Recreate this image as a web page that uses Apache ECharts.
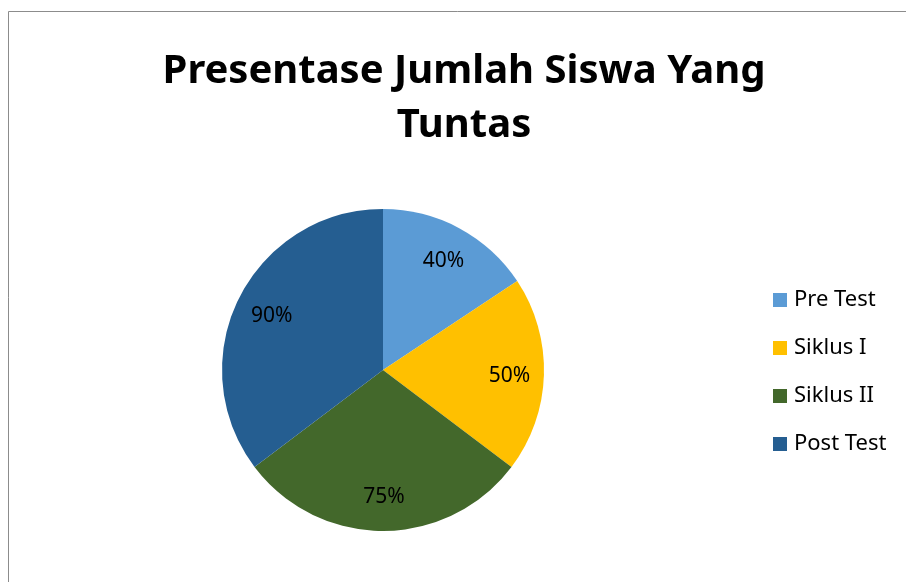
<!DOCTYPE html>
<html>
<head>
<meta charset="utf-8">
<script src="https://cdn.jsdelivr.net/npm/echarts@6/dist/echarts.min.js"></script>
<style>
  html, body { margin: 0; padding: 0; background: #fff; }
  #result { width: 906px; height: 582px; }
</style>
</head>
<body>
<div id="result"></div>
<script>
// data
var categories = ['Pre Test', 'Siklus I', 'Siklus II', 'Post Test'];
var values = [40, 50, 75, 90];
var colors = ['#5B9BD5', '#FFC000', '#43682B', '#255E91'];

var pieData = categories.map(function (name, i) {
    return { name: name, value: values[i], itemStyle: { color: colors[i] } };
});

var option = {
    animation: false,
    backgroundColor: '#fff',
    // 外框
    graphic: [{
        type: 'rect',
        shape: { x: 8.5, y: 11.5, width: 1000, height: 1000 },
        style: { fill: 'none', stroke: '#8c8c8c', lineWidth: 1 },
        silent: true
    }],
    title: {
        text: 'Presentase Jumlah Siswa Yang\nTuntas',
        left: 459,
        textAlign: 'center',
        top: 40,
        textStyle: {
            fontFamily: 'Noto Sans',
            fontWeight: 'bold',
            fontSize: 40,
            lineHeight: 54,
            color: '#000'
        }
    },
    legend: {
        orient: 'vertical',
        left: 768,
        top: 284,
        itemWidth: 14,
        itemHeight: 14,
        itemGap: 26,
        icon: 'rect',
        textStyle: { fontFamily: 'Noto Sans', fontSize: 22, lineHeight: 22, color: '#000', padding: [0, 0, 0, 2] },
        data: categories
    },
    series: [
        {
            name: 'Tuntas',
            type: 'pie',
            center: [383, 370],
            radius: 161,
            startAngle: 90,
            clockwise: true,
            label: { show: false },
            labelLine: { show: false },
            data: pieData
        },
        {
            // 标签层，只显示文字
            name: 'label',
            type: 'pie',
            center: [384, 372],
            radius: [84, 161],
            startAngle: 90,
            clockwise: true,
            silent: true,
            legendHoverLink: false,
            itemStyle: { color: 'rgba(0,0,0,0)' },
            label: {
                show: true,
                position: 'inside',
                formatter: '{c}%',
                fontFamily: 'Noto Sans',
                fontSize: 21,
                color: '#000'
            },
            labelLine: { show: false },
            data: categories.map(function (name, i) { return { name: name + ' ', value: values[i] }; })
        }
    ]
};

var myResult = echarts.init(document.getElementById('result'));
myResult.setOption(option);
</script>
</body>
</html>
